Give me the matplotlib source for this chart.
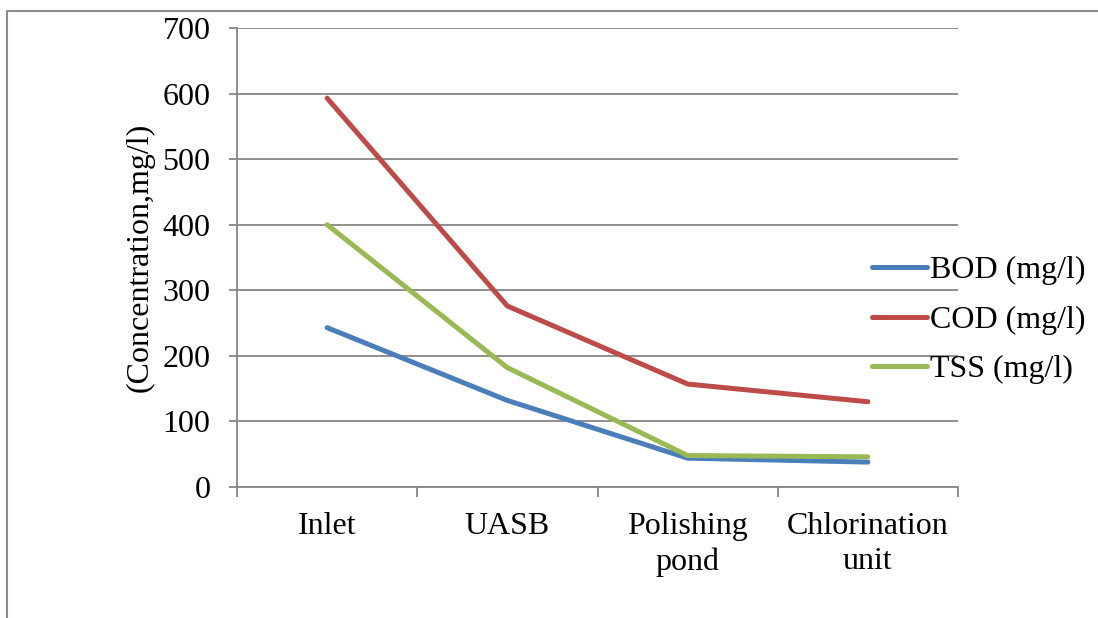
import matplotlib
matplotlib.use("Agg")
import matplotlib.pyplot as plt
from matplotlib.lines import Line2D
import numpy as np

stages = ["Inlet", "UASB", "Polishing\npond", "Chlorination\nunit"]
bod = [243, 132, 44, 38]
cod = [593, 276, 157, 130]
tss = [400, 182, 48, 46]
y_ticks = [0, 100, 200, 300, 400, 500, 600, 700]

plt.rcParams['font.family'] = ['Liberation Serif', 'DejaVu Serif']

W, H = 1098, 618
fig = plt.figure(figsize=(W / 100, H / 100), dpi=100)
ax = fig.add_axes([237 / W, 1 - 487 / H, (958 - 237) / W, (487 - 28) / H])

x = np.arange(len(stages))
ax.plot(x, bod, color="#4A7EBB", lw=3.6, solid_capstyle="round", label="BOD (mg/l)", zorder=3)
ax.plot(x, cod, color="#BE4B48", lw=3.6, solid_capstyle="round", label="COD (mg/l)", zorder=3)
ax.plot(x, tss, color="#98B954", lw=3.6, solid_capstyle="round", label="TSS (mg/l)", zorder=3)

ax.set_xlim(-0.5, len(stages) - 0.5)
ax.set_ylim(0, 700)
ax.set_yticks(y_ticks)
ax.set_yticklabels([str(v) for v in y_ticks], fontsize=23)
ax.yaxis.grid(True, color="#868686", lw=1.3)
ax.set_axisbelow(True)

ax.set_xticks(x)
ax.set_xticklabels(stages, fontsize=23, linespacing=1.28)
ax.set_xticks(np.arange(len(stages) + 1) - 0.5, minor=True)
ax.tick_params(axis="x", which="major", length=0, pad=18)
ax.tick_params(axis="x", which="minor", length=7, width=1.3, color="#868686", direction="out")
ax.tick_params(axis="y", length=6, width=1.3, color="#868686", direction="out", pad=13)

for s in ["top", "right"]:
    ax.spines[s].set_visible(False)
for s in ["left", "bottom"]:
    ax.spines[s].set_color("#868686")
    ax.spines[s].set_linewidth(1.3)

ax.set_ylabel("(Concentration,mg/l)", fontsize=23, labelpad=6)

fig.legend(loc="center left", bbox_to_anchor=(872 / W, 1 - 320 / H), frameon=False,
           fontsize=23, handlelength=1.72, handletextpad=0.1, labelspacing=0.64,
           borderpad=0, borderaxespad=0)

# chart-area border (left and top edges visible)
fig.add_artist(Line2D([7 / W, 7 / W, 1.0], [0.0, 1 - 11 / H, 1 - 11 / H],
                      transform=fig.transFigure, color="#8C8C8C", lw=1.5))

fig.savefig("out.png", dpi=100)
